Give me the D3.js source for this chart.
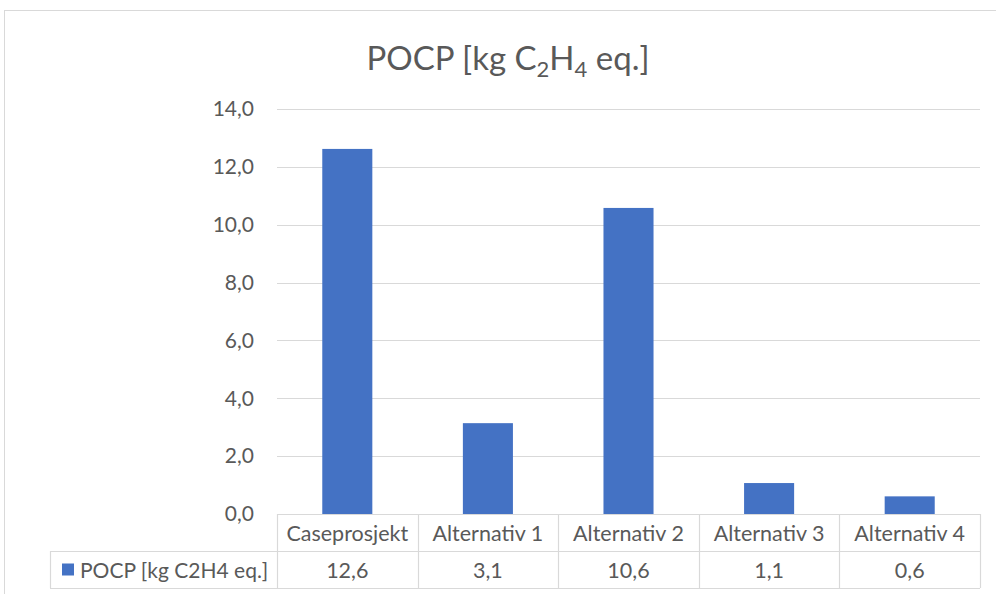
<!DOCTYPE html>
<html lang="en">
<head>
<meta charset="UTF-8">
<title>POCP</title>
<script src="https://d3js.org/d3.v7.min.js"></script>
<style>
  body { margin: 0; background: #fff; }
  text { font-family: Lato, "Open Sans", sans-serif; fill: #595959; }
</style>
</head>
<body>
<svg id="svg" width="996" height="594"></svg>
<script>
const categories = ["Caseprosjekt", "Alternativ 1", "Alternativ 2", "Alternativ 3", "Alternativ 4"];
const values = [12.62, 3.14, 10.58, 1.07, 0.61];
const yTicks = [0, 2, 4, 6, 8, 10, 12, 14];
const seriesName = "POCP [kg C2H4 eq.]";

const svg = d3.select("#svg");
const fmt = d => d3.format(".1f")(d).replace(".", ",");

// chart frame
svg.append("rect")
  .attr("x", 4.5).attr("y", 10.5)
  .attr("width", 1000).attr("height", 600)
  .attr("fill", "none").attr("stroke", "#d9d9d9");

const plotLeft = 277, plotRight = 980, plotTop = 109, plotBottom = 514;
const rowH = 37;

const x = d3.scaleBand().domain(categories).range([plotLeft, plotRight])
  .paddingInner(0.644).paddingOuter(0.322);
const y = d3.scaleLinear().domain([0, 14]).range([plotBottom, plotTop]);

// title
const title = svg.append("text")
  .attr("x", 508).attr("y", 70)
  .attr("text-anchor", "middle")
  .style("font-size", "33px");
title.append("tspan").text("POCP [kg C");
title.append("tspan").text("2").attr("dy", 7).style("font-size", "22px");
title.append("tspan").text("H").attr("dy", -7);
title.append("tspan").text("4").attr("dy", 7).style("font-size", "22px");
title.append("tspan").text(" eq.]").attr("dy", -7);

// gridlines
svg.append("g").selectAll("line").data(yTicks.filter(d => d > 0)).join("line")
  .attr("x1", plotLeft).attr("x2", plotRight)
  .attr("y1", d => Math.round(y(d)) + 0.5).attr("y2", d => Math.round(y(d)) + 0.5)
  .attr("stroke", "#d9d9d9").attr("stroke-width", 1.2);

// y labels
svg.append("g").selectAll("text").data(yTicks).join("text")
  .attr("x", 254).attr("y", d => y(d))
  .attr("dy", "0.35em")
  .attr("text-anchor", "end")
  .style("font-size", "21px")
  .text(fmt);

// bars
svg.append("g").selectAll("rect").data(values).join("rect")
  .attr("x", (d, i) => x(categories[i]))
  .attr("width", x.bandwidth())
  .attr("y", d => y(d))
  .attr("height", d => y(0) - y(d))
  .attr("fill", "#4472c4");

// data table
const tbl = svg.append("g").attr("stroke", "#d9d9d9").attr("stroke-width", 1.2);
const edges = d3.range(categories.length + 1).map(i => plotLeft + i * (plotRight - plotLeft) / categories.length);
tbl.append("line").attr("x1", plotLeft).attr("x2", plotRight).attr("y1", plotBottom + 0.5).attr("y2", plotBottom + 0.5);
tbl.append("line").attr("x1", 50).attr("x2", plotRight).attr("y1", plotBottom + rowH + 0.5).attr("y2", plotBottom + rowH + 0.5);
tbl.append("line").attr("x1", 50).attr("x2", plotRight).attr("y1", plotBottom + 2 * rowH + 0.5).attr("y2", plotBottom + 2 * rowH + 0.5);
tbl.append("line").attr("x1", 50.5).attr("x2", 50.5).attr("y1", plotBottom + rowH).attr("y2", plotBottom + 2 * rowH);
tbl.selectAll("line.v").data(edges).join("line").attr("class", "v")
  .attr("x1", d => Math.round(d) + 0.5).attr("x2", d => Math.round(d) + 0.5)
  .attr("y1", plotBottom).attr("y2", plotBottom + 2 * rowH);

svg.append("g").selectAll("text").data(categories).join("text")
  .attr("x", d => x(d) + x.bandwidth() / 2)
  .attr("y", plotBottom + rowH / 2 + 1).attr("dy", "0.35em")
  .attr("text-anchor", "middle")
  .style("font-size", "21.5px")
  .text(d => d);

svg.append("g").selectAll("text").data(values).join("text")
  .attr("x", (d, i) => x(categories[i]) + x.bandwidth() / 2)
  .attr("y", plotBottom + rowH * 1.5 + 1).attr("dy", "0.35em")
  .attr("text-anchor", "middle")
  .style("font-size", "21.5px")
  .text(fmt);

// legend key
svg.append("rect").attr("x", 62).attr("y", plotBottom + rowH * 1.5 - 6)
  .attr("width", 12).attr("height", 12).attr("fill", "#4472c4");
svg.append("text").attr("x", 80).attr("y", plotBottom + rowH * 1.5 + 1).attr("dy", "0.35em")
  .style("font-size", "21px")
  .text(seriesName);
</script>
</body>
</html>
